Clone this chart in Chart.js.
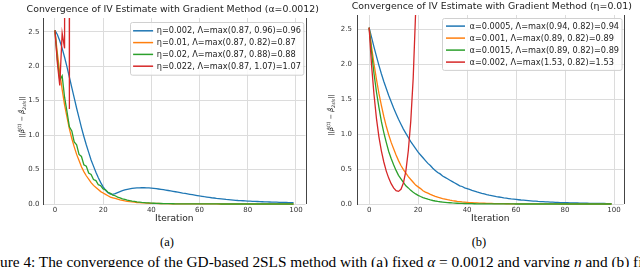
<!DOCTYPE html>
<html><head><meta charset="utf-8">
<script src="https://cdn.jsdelivr.net/npm/chart.js@4.4.0/dist/chart.umd.min.js"></script>
<style>
html,body{margin:0;padding:0;background:#fff;width:640px;height:267px;overflow:hidden;}
#wrap{position:relative;width:640px;height:267px;overflow:hidden;}
canvas{position:absolute;top:0;}
#c1{left:0px} #c2{left:320px}
.sub{position:absolute;font-family:"Liberation Serif","Times New Roman",serif;font-size:12.5px;line-height:1;color:#000;transform:translate(-50%,-50%);white-space:nowrap}
#cap{position:absolute;font-family:"Liberation Serif","Times New Roman",serif;white-space:nowrap;color:#000;line-height:1;}
</style></head>
<body><div id="wrap">
<canvas id="c1" width="320" height="232"></canvas>
<canvas id="c2" width="320" height="232"></canvas>
<div class="sub" style="left:167px;top:242px">(a)</div>
<div class="sub" style="left:479px;top:242px">(b)</div>
<div id="cap"><span id="figpart">Fig</span>ure 4: The convergence of the GD-based 2SLS method with (a) fixed <i>α</i> = 0.0012 and varying <i>η</i> and <span id="bpart">(b)</span> fixed <i>η</i> = 0.01 and varying <i>α</i>.</div>
</div>
<script>
// ---------- DATA ----------
const iterations = Array.from({length: 100}, (_, i) => i);
const xTicks = [0, 20, 40, 60, 80, 100];
const xTickLabels = ['0', '20', '40', '60', '80', '100'];
const yTicks = [0, 0.5, 1.0, 1.5, 2.0, 2.5];
const yTickLabels = ['0.0', '0.5', '1.0', '1.5', '2.0', '2.5'];

const leftTitle = 'Convergence of IV Estimate with Gradient Method (α=0.0012)';
const rightTitle = 'Convergence of IV Estimate with Gradient Method (η=0.01)';
const leftLabels = ['η=0.002, Λ=max(0.87, 0.96)=0.96', 'η=0.01, Λ=max(0.87, 0.82)=0.87', 'η=0.02, Λ=max(0.87, 0.88)=0.88', 'η=0.022, Λ=max(0.87, 1.07)=1.07'];
const rightLabels = ['α=0.0005, Λ=max(0.94, 0.82)=0.94', 'α=0.001, Λ=max(0.89, 0.82)=0.89', 'α=0.0015, Λ=max(0.89, 0.82)=0.89', 'α=0.002, Λ=max(1.53, 0.82)=1.53'];

const leftBlue = [2.52,2.46,2.37,2.26,2.13,1.99,1.84,1.69,1.54,1.39,
 1.25,1.11,0.98,0.86,0.75,0.64,0.55,0.46,0.38,0.31,
 0.25,0.20,0.165,0.145,0.14,0.15,0.165,0.18,0.193,0.204,
 0.213,0.220,0.226,0.230,0.233,0.235,0.236,0.236,0.235,0.233,
 0.230,0.227,0.223,0.218,0.213,0.208,0.202,0.196,0.190,0.184,
 0.178,0.172,0.166,0.159,0.153,0.147,0.141,0.135,0.129,0.123,
 0.117,0.112,0.106,0.101,0.096,0.091,0.087,0.082,0.078,0.074,
 0.070,0.066,0.063,0.060,0.057,0.054,0.051,0.049,0.047,0.045,
 0.043,0.041,0.039,0.037,0.036,0.034,0.033,0.031,0.030,0.029,
 0.028,0.027,0.026,0.025,0.024,0.023,0.022,0.021,0.021,0.020];
const leftOrange = [2.52,2.19,1.91,1.66,1.44,1.26,1.09,0.95,0.83,0.72,
 0.63,0.54,0.47,0.41,0.36,0.31,0.27,0.24,0.21,0.18,
 0.16,0.14,0.12,0.10,0.09,0.08,0.07,0.06,0.052,0.045,
 0.039,0.034,0.030,0.026,0.022,0.019,0.017,0.015,0.013,0.011,
 0.010,0.009,0.008,0.007,0.006,0.005,0.0045,0.004,0.0035,0.003,
 0.0027,0.0024,0.0021,0.0018,0.0016,0.0014,0.0012,0.0011,0.001,0.0009,
 0.0008,0.0007,0.0006,0.0006,0.0005,0.0005,0.0004,0.0004,0.0003,0.0003,
 0.0003,0.0002,0.0002,0.0002,0.0002,0.0002,0.0001,0.0001,0.0001,0.0001,
 0.0001,0.0001,0.0001,0.0001,0.0001,0.0001,0.0001,0.0001,0.0001,0.0001,
 0.0001,0.0001,0.0001,0.0001,0.0001,0.0001,0.0001,0.0001,0.0001,0.0001];
const leftGreen = [2.52,2.10,1.80,1.86,1.55,1.34,1.12,1.06,0.90,0.86,
 0.72,0.69,0.57,0.55,0.45,0.43,0.355,0.34,0.28,0.265,
 0.22,0.205,0.17,0.155,0.13,0.12,0.10,0.09,0.075,0.068,
 0.056,0.050,0.042,0.037,0.031,0.027,0.023,0.020,0.017,0.015,
 0.013,0.011,0.0095,0.008,0.007,0.006,0.005,0.0045,0.004,0.0035,
 0.003,0.0026,0.0023,0.002,0.0018,0.0016,0.0014,0.0012,0.0011,0.001,
 0.0009,0.0008,0.0007,0.0006,0.0006,0.0005,0.0005,0.0004,0.0004,0.0003,
 0.0003,0.0003,0.0002,0.0002,0.0002,0.0002,0.0002,0.0001,0.0001,0.0001,
 0.0001,0.0001,0.0001,0.0001,0.0001,0.0001,0.0001,0.0001,0.0001,0.0001,
 0.0001,0.0001,0.0001,0.0001,0.0001,0.0001,0.0001,0.0001,0.0001,0.0001];
const leftRed = [2.52,2.05,1.72,2.48,2.26,40.0,1.38,60.0];

const rightBlue = [2.52,2.38,2.24,2.11,1.98,1.86,1.75,1.65,1.55,1.46,
 1.37,1.29,1.21,1.14,1.07,1.01,0.95,0.89,0.84,0.79,
 0.74,0.70,0.66,0.62,0.58,0.55,0.51,0.48,0.45,0.43,
 0.40,0.38,0.36,0.34,0.32,0.30,0.28,0.26,0.25,0.23,
 0.22,0.21,0.195,0.185,0.173,0.163,0.153,0.144,0.135,0.127,
 0.120,0.113,0.106,0.100,0.094,0.088,0.083,0.078,0.073,0.069,
 0.065,0.061,0.057,0.054,0.051,0.048,0.045,0.042,0.040,0.037,
 0.035,0.033,0.031,0.029,0.027,0.026,0.024,0.023,0.021,0.020,
 0.019,0.018,0.017,0.016,0.015,0.014,0.013,0.012,0.0115,0.011,
 0.010,0.0095,0.009,0.0085,0.008,0.0075,0.007,0.0065,0.006,0.0057];
const rightOrange = [2.52,2.24,2.00,1.78,1.58,1.41,1.25,1.11,0.99,0.88,
 0.79,0.70,0.62,0.55,0.49,0.44,0.39,0.35,0.31,0.27,
 0.245,0.22,0.19,0.17,0.155,0.138,0.123,0.109,0.097,0.087,
 0.077,0.069,0.061,0.054,0.048,0.043,0.038,0.034,0.030,0.027,
 0.024,0.021,0.019,0.017,0.015,0.013,0.012,0.011,0.0095,0.0085,
 0.0075,0.0067,0.006,0.0053,0.0047,0.0042,0.0037,0.0033,0.003,0.0026,
 0.0023,0.0021,0.0019,0.0017,0.0015,0.0013,0.0012,0.0011,0.001,0.0009,
 0.0008,0.0007,0.0006,0.0006,0.0005,0.0005,0.0004,0.0004,0.0003,0.0003,
 0.0003,0.0002,0.0002,0.0002,0.0002,0.0002,0.0001,0.0001,0.0001,0.0001,
 0.0001,0.0001,0.0001,0.0001,0.0001,0.0001,0.0001,0.0001,0.0001,0.0001];
const rightGreen = [2.52,2.17,1.86,1.60,1.38,1.18,1.02,0.88,0.75,0.65,
 0.56,0.48,0.41,0.36,0.31,0.26,0.23,0.195,0.168,0.144,
 0.124,0.107,0.092,0.079,0.068,0.058,0.050,0.043,0.037,0.032,
 0.028,0.024,0.020,0.018,0.015,0.013,0.011,0.0095,0.008,0.007,
 0.006,0.005,0.0044,0.0038,0.0032,0.0028,0.0024,0.002,0.0017,0.0015,
 0.0013,0.0011,0.001,0.0009,0.0008,0.0007,0.0006,0.0005,0.0004,0.0004,
 0.0003,0.0003,0.0002,0.0002,0.0002,0.0002,0.0001,0.0001,0.0001,0.0001,
 0.0001,0.0001,0.0001,0.0001,0.0001,0.0001,0.0001,0.0001,0.0001,0.0001,
 0.0001,0.0001,0.0001,0.0001,0.0001,0.0001,0.0001,0.0001,0.0001,0.0001,
 0.0001,0.0001,0.0001,0.0001,0.0001,0.0001,0.0001,0.0001,0.0001,0.0001];
const rightRed = [2.52,1.98,1.56,1.22,0.96,0.76,0.60,0.47,0.37,0.29,
 0.23,0.19,0.18,0.21,0.30,0.47,0.76,1.18,1.80,2.75,4.2,6.4,9.8];

const colors = ['#1f77b4', '#ff7f0e', '#2ca02c', '#d62728'];

// ---------- RENDERING ----------
const FONT = '"DejaVu Sans", Verdana, sans-serif';

const boxLegend = {
  id: 'boxLegend',
  afterDatasetsDraw(chart, args, o) {
    const {ctx, chartArea: a} = chart;
    const ds = chart.data.datasets;
    ctx.save();
    ctx.font = o.fontSize + 'px ' + FONT;
    const tw = Math.max(...ds.map(d => ctx.measureText(d.label).width));
    const w = o.padL + o.lineLen + o.gap + tw + o.padR;
    const h = o.padT + (ds.length - 1) * o.rowH + o.padB;
    const x0 = Math.round(a.right - o.marginR - w) + 0.5, y0 = Math.round(a.top + o.marginT) + 0.5;
    ctx.fillStyle = 'rgba(255,255,255,0.85)';
    ctx.strokeStyle = '#d0d0d0';
    ctx.lineWidth = 1;
    ctx.beginPath();
    ctx.roundRect(x0, y0, w, h, 2);
    ctx.fill(); ctx.stroke();
    ds.forEach((d, i) => {
      const y = y0 + o.padT + i * o.rowH;
      ctx.strokeStyle = d.borderColor; ctx.lineWidth = 1.5;
      ctx.beginPath(); ctx.moveTo(x0 + o.padL, y); ctx.lineTo(x0 + o.padL + o.lineLen, y); ctx.stroke();
      ctx.fillStyle = '#222'; ctx.textBaseline = 'middle'; ctx.textAlign = 'left';
      ctx.fillText(d.label, x0 + o.padL + o.lineLen + o.gap, y + 0.5);
    });
    // right spine
    ctx.strokeStyle = '#444'; ctx.lineWidth = 1;
    ctx.beginPath();
    const rx = Math.round(a.right) + 0.5;
    ctx.moveTo(rx, a.top); ctx.lineTo(rx, a.bottom); ctx.stroke();
    ctx.restore();
  }
};

const axTitle = {
  id: 'axTitle',
  afterDraw(chart, args, o) {
    const {ctx, chartArea: a} = chart;
    ctx.save();
    ctx.font = o.size + 'px ' + FONT;
    ctx.fillStyle = '#222'; ctx.textAlign = 'center'; ctx.textBaseline = 'middle';
    ctx.fillText(o.text, (a.left + a.right) / 2 + (o.dx || 0), o.y);
    ctx.restore();
  }
};

const yLabel = {
  id: 'yLabel',
  afterDraw(chart, args, o) {
    const ctx = chart.ctx;
    ctx.save();
    ctx.translate(o.x, o.y);
    ctx.rotate(-Math.PI / 2);
    const b = o.size, s = o.size * 0.7;
    const segs = [
      {t: '||', f: b},
      {t: 'β\u0302', f: b, it: true},
      {t: '(t)', f: s, dy: -b * 0.42},
      {t: ' − ', f: b},
      {t: 'β\u0302', f: b, it: true},
      {t: '2sls', f: s, dy: b * 0.28, it: true},
      {t: '||', f: b}
    ];
    let w = 0;
    segs.forEach(g => { ctx.font = (g.it ? 'italic ' : '') + g.f + 'px ' + FONT; g.w = ctx.measureText(g.t).width; w += g.w; });
    let x = -w / 2;
    ctx.fillStyle = '#1a1a1a'; ctx.textBaseline = 'alphabetic'; ctx.textAlign = 'left';
    segs.forEach(g => { ctx.font = (g.it ? 'italic ' : '') + g.f + 'px ' + FONT; ctx.fillText(g.t, x, (g.dy || 0) + b * 0.36); x += g.w; });
    ctx.restore();
  }
};

function makeChart(id, cfg) {
  return new Chart(document.getElementById(id), {
    type: 'line',
    data: {
      datasets: cfg.series.map((vals, k) => ({
        label: cfg.labels[k],
        data: vals.map((v, i) => ({x: iterations[i], y: v})),
        borderColor: colors[k], backgroundColor: colors[k],
        borderWidth: 1.3, pointRadius: 0, tension: 0, fill: false,
        order: 3 - k,
        clip: {left: 3, right: 3, top: 0, bottom: 2}
      }))
    },
    options: {
      responsive: false, animation: false, devicePixelRatio: 1,
      layout: {padding: {left: 0, right: cfg.padRight, top: cfg.top, bottom: 0}},
      plugins: {
        legend: {display: false}, tooltip: {enabled: false}, title: {display: false},
        axTitle: {text: cfg.title, size: 9.4, y: cfg.titleY, dx: cfg.titleDx},
        boxLegend: cfg.legend,
        yLabel: cfg.yLabel
      },
      scales: {
        x: {
          type: 'linear', min: -4.95, max: 103.95,
          afterBuildTicks: ax => { ax.ticks = xTicks.map(v => ({value: v})); },
          afterFit: ax => { ax.height = 232 - cfg.bottom; },
          grid: {color: '#dcdcdc', lineWidth: 1, drawTicks: false},
          border: {display: false},
          ticks: {font: {family: FONT, size: 7}, color: '#333', padding: 2, maxRotation: 0, autoSkip: false,
            callback: (v, i) => xTickLabels[i]},
          title: {display: true, text: 'Iteration', color: '#222', font: {family: FONT, size: 9.1},
            padding: {top: 0, bottom: 7.5}}
        },
        y: {
          type: 'linear', min: 0, max: 2.7,
          afterBuildTicks: ax => { ax.ticks = yTicks.map(v => ({value: v})); },
          afterFit: ax => { ax.width = cfg.yWidth; },
          grid: {color: '#dcdcdc', lineWidth: 1, drawTicks: false},
          border: {display: true, color: '#444', width: 1},
          ticks: {font: {family: FONT, size: 7}, color: '#333', padding: cfg.yTickPad, autoSkip: false,
            callback: (v, i) => yTickLabels[i]}
        }
      }
    },
    plugins: [boxLegend, yLabel, axTitle]
  });
}

makeChart('c1', {
  series: [leftBlue, leftOrange, leftGreen, leftRed], labels: leftLabels, title: leftTitle,
  padRight: 14.5, top: 18, titleY: 9.7, titleDx: -1.5, yWidth: 43, yTickPad: 3.5, bottom: 204,
  legend: {fontSize: 8.2, marginT: 3.7, marginR: 2.5, padT: 8.3, rowH: 11.8, padB: 9, padL: 2.6, lineLen: 20, gap: 3.6, padR: 3},
  yLabel: {x: 21.5, y: 117, size: 6.6}
});
makeChart('c2', {
  series: [rightBlue, rightOrange, rightGreen, rightRed], labels: rightLabels, title: rightTitle,
  padRight: 16.3, top: 15, titleY: 6.8, titleDx: 1.5, yWidth: 37, yTickPad: 5, bottom: 204,
  legend: {fontSize: 8.2, marginT: 3.3, marginR: 2, padT: 7.6, rowH: 12, padB: 8.3, padL: 3.5, lineLen: 19, gap: 4.5, padR: 3},
  yLabel: {x: 10.5, y: 115, size: 6.6}
});

// caption layout: fit so that "(b)" ends near x=630 and "Fig" is cut off on the left
(function () {
  const cap = document.getElementById('cap');
  cap.style.fontSize = '10px';
  const fig = document.getElementById('figpart').getBoundingClientRect();
  const bp = document.getElementById('bpart').getBoundingClientRect();
  const fs = 10 * 630 / (bp.right - fig.right);
  cap.style.fontSize = fs + 'px';
  const fig2 = document.getElementById('figpart').getBoundingClientRect();
  const c2 = cap.getBoundingClientRect();
  cap.style.left = (-(fig2.right - c2.left)) + 'px';
  cap.style.top = (267.5 - fs * 0.89) + 'px';
})();
</script>
</body></html>
